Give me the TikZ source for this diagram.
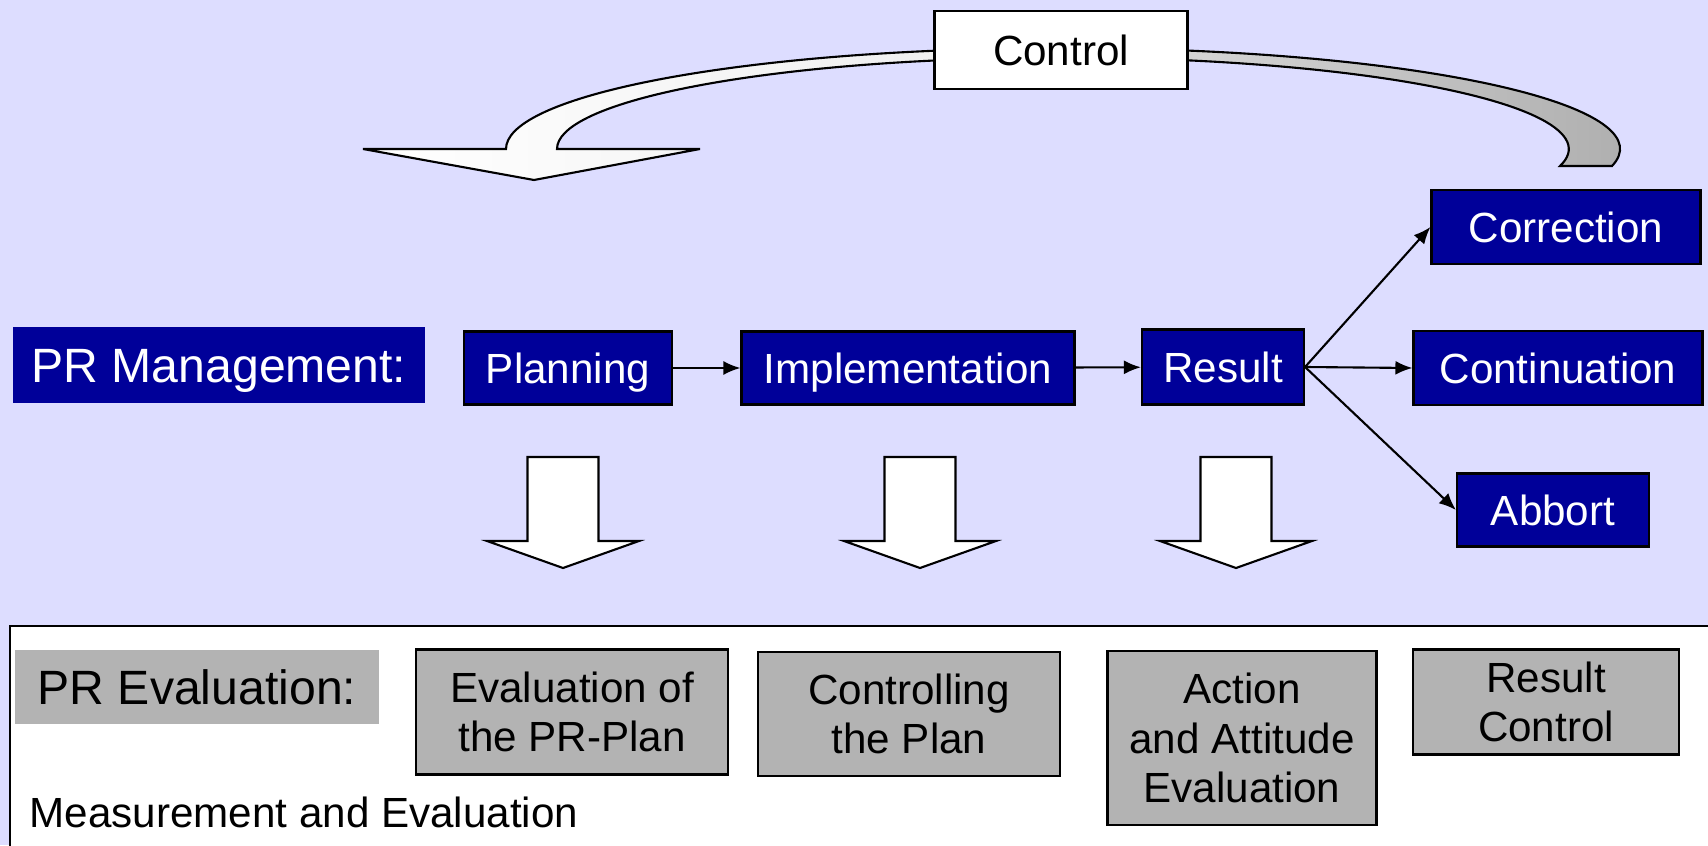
\documentclass[tikz,border=0pt]{standalone}
\usepackage{fontspec}
\setmainfont{Liberation Sans}
\usepackage{tikz}
\usetikzlibrary{arrows.meta}
\definecolor{lavbg}{RGB}{221,221,255}
\definecolor{pmblue}{RGB}{0,0,153}
\definecolor{evgray}{RGB}{179,179,179}

\begin{document}
\begin{tikzpicture}[>={Latex[length=1.7mm,width=1.4mm]},
  blubox/.style={fill=pmblue,draw=black,line width=0.6pt,text=white,minimum height=7.3mm,inner sep=0pt,text height=8.6pt,text depth=0pt,font=\fontsize{12}{14}\selectfont},
  grybox/.style={fill=evgray,draw=black,line width=0.6pt,align=center,inner sep=0pt,font=\fontsize{12}{14}\selectfont},
  biglabel/.style={draw=none,inner sep=0pt,text height=9.8pt,text depth=0pt,font=\fontsize{13.7}{16}\selectfont}]
\useasboundingbox (0,0) rectangle (170.8mm,84.5mm);
\clip (0,0) rectangle (170.8mm,84.5mm);
\fill[lavbg] (0,0) rectangle (170.8mm,84.5mm);
\draw[fill=white,line width=0.8pt] (1mm,-5mm) rectangle (180mm,21.9mm);
\shade[draw=black,line width=0.6pt,left color=white,right color=gray!15] (106.3mm,69.6mm) ++(100:55.7mm and 10.1mm) arc[start angle=100,end angle=180,x radius=55.7mm,y radius=10.1mm] -- (36.3mm,69.6mm) -- (53.4mm,66.5mm) -- (70mm,69.6mm) -- (55.7mm,69.6mm) arc[start angle=180,end angle=100,x radius=50.6mm,y radius=9.15mm] -- cycle;
\shade[draw=black,line width=0.6pt,left color=gray!25,right color=gray!65] (106.3mm,69.6mm) ++(80:55.7mm and 10.1mm) arc[start angle=80,end angle=-9.7,x radius=55.7mm,y radius=10.1mm] -- (156mm,67.9mm) arc[start angle=-10.7,end angle=80,x radius=50.6mm,y radius=9.15mm] -- cycle;
\node[draw=black,fill=white,line width=0.6pt,minimum width=25.3mm,minimum height=7.8mm,inner sep=0pt,font=\fontsize{12}{14}\selectfont] (ctrl) at (106.1mm,79.5mm) {Control};
\node[blubox,biglabel,fill=pmblue,minimum width=41.2mm,minimum height=7.6mm] (prm) at (21.9mm,48mm) {PR Management:};
\node[blubox,minimum width=20.8mm] (plan) at (56.8mm,47.7mm) {Planning};
\node[blubox,minimum width=33.3mm] (impl) at (90.8mm,47.7mm) {Implementation};
\node[blubox,minimum width=16.2mm,minimum height=7.5mm] (res) at (122.3mm,47.8mm) {Result};
\node[blubox,minimum width=26.9mm,minimum height=7.4mm] (corr) at (156.6mm,61.8mm) {Correction};
\node[blubox,minimum width=28.9mm,minimum height=7.4mm] (cont) at (155.8mm,47.7mm) {Continuation};
\node[blubox,minimum width=19.2mm] (abb) at (155.3mm,33.5mm) {Abbort};
\draw[->,line width=0.6pt] (plan) -- (impl);
\draw[->,line width=0.6pt] (impl) -- (res);
\draw[->,line width=0.6pt] (res.east) -- (corr.west);
\draw[->,line width=0.6pt] (res.east) -- (cont.west);
\draw[->,line width=0.6pt] (res.east) -- (abb.west);
\foreach \x in {56.3,92.0,123.6}
  \draw[fill=white,line width=0.6pt,shift={(\x mm,0)}] (-3.55mm,38.8mm) -- (-3.55mm,30.4mm) -- (-7.6mm,30.4mm) -- (0,27.7mm) -- (7.6mm,30.4mm) -- (3.55mm,30.4mm) -- (3.55mm,38.8mm) -- cycle;
\node[grybox,biglabel,fill=evgray,minimum width=36.3mm,minimum height=7.4mm] (pre) at (19.7mm,15.8mm) {PR Evaluation:};
\node[grybox,minimum width=31.2mm,minimum height=12.5mm] (evpl) at (57.2mm,13.3mm) {Evaluation of\\the PR-Plan};
\node[grybox,minimum width=30.2mm,minimum height=12.4mm] (ctpl) at (90.9mm,13.1mm) {Controlling\\the Plan};
\node[grybox,minimum width=26.9mm,minimum height=17.4mm] (act) at (124.2mm,10.7mm) {Action\\and Attitude\\Evaluation};
\node[grybox,minimum width=26.6mm,minimum height=10.5mm] (rctl) at (154.6mm,14.3mm) {Result\\Control};
\node[anchor=base west,inner sep=0pt,font=\fontsize{12}{14}\selectfont] (meas) at (2.9mm,1.75mm) {Measurement and Evaluation};
\end{tikzpicture}
\end{document}
